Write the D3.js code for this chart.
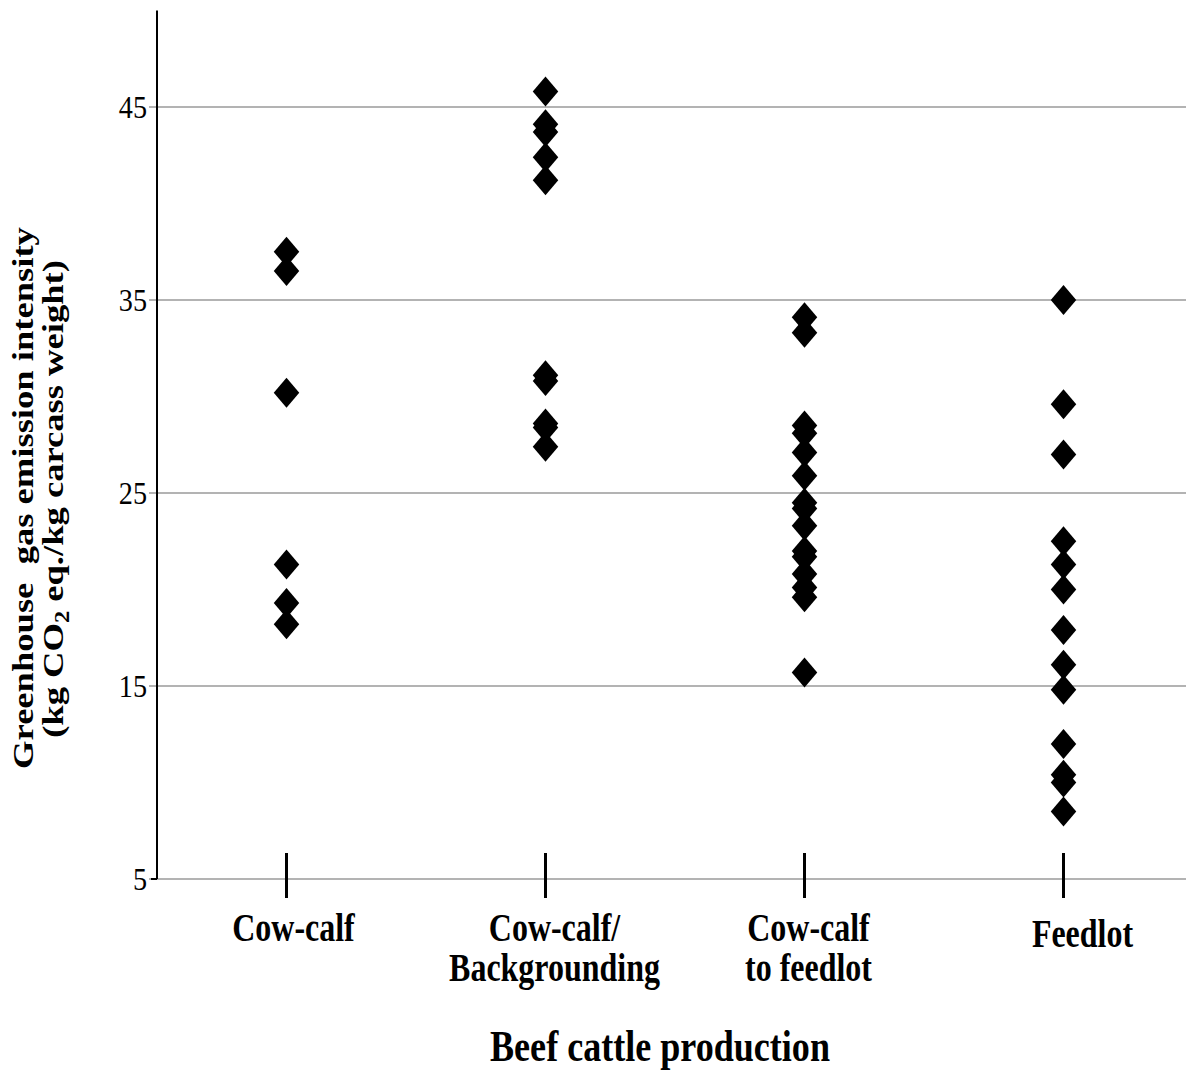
<!DOCTYPE html>
<html>
<head>
<meta charset="utf-8">
<script src="https://cdn.jsdelivr.net/npm/d3@7"></script>
<style>
  body { margin: 0; background: #fff; }
  svg { display: block; }
  text { font-family: "Liberation Serif", "Times New Roman", serif; fill: #000; }
</style>
</head>
<body>
<svg id="chart" width="1186" height="1072"></svg>
<script>
// Production systems shown along the x axis
const categories = ["Cow-calf", "Cow-calf/Backgrounding", "Cow-calf to feedlot", "Feedlot"];
const categoryLabelLines = [["Cow-calf"], ["Cow-calf/", "Backgrounding"], ["Cow-calf", "to feedlot"], ["Feedlot"]];

// GHG emission intensity estimates (kg CO2 eq./kg carcass weight) per system
const cowCalfValues = [37.5, 36.5, 30.2, 21.3, 19.3, 18.2];
const backgroundingValues = [45.8, 44.1, 43.7, 42.4, 41.2, 31.1, 30.8, 28.6, 28.4, 27.4];
const cowCalfToFeedlotValues = [34.1, 33.3, 28.5, 28.1, 27.1, 25.9, 24.5, 24.2, 23.3, 22.0, 21.7, 20.8, 20.1, 19.6, 15.7];
const feedlotValues = [35.0, 29.6, 27.0, 22.5, 21.3, 20.0, 17.9, 16.1, 14.8, 12.0, 10.4, 10.0, 8.5];

const seriesValues = [cowCalfValues, backgroundingValues, cowCalfToFeedlotValues, feedlotValues];

// Y axis
const yDomain = [5, 50];
const yTickValues = [5, 15, 25, 35, 45];

const svg = d3.select("#chart");

// Plot frame
const plotLeft = 157, plotRight = 1193, plotTop = 10.5, plotBottom = 879;

// Text in this figure is drawn narrow: horizontal glyphs squeezed, vertical ones stretched
const squeeze = 0.82;

const x = d3.scaleBand().domain(categories).range([plotLeft, plotRight]).padding(0);
const y = d3.scaleLinear().domain(yDomain).range([plotBottom, plotTop]);
const xCenter = c => x(c) + x.bandwidth() / 2;

// Horizontal gridlines
svg.append("g")
  .selectAll("line")
  .data(yTickValues)
  .join("line")
  .attr("x1", plotLeft - 8)
  .attr("x2", plotRight)
  .attr("y1", d => y(d))
  .attr("y2", d => y(d))
  .attr("stroke", "#9a9a9a")
  .attr("stroke-width", 1.6);

// Short black tick at the axis foot
svg.append("line")
  .attr("x1", plotLeft - 6).attr("x2", plotLeft)
  .attr("y1", y(yDomain[0])).attr("y2", y(yDomain[0]))
  .attr("stroke", "#000").attr("stroke-width", 2);

// Y axis line
svg.append("line")
  .attr("x1", plotLeft).attr("x2", plotLeft)
  .attr("y1", y(yDomain[1])).attr("y2", y(yDomain[0]))
  .attr("stroke", "#000").attr("stroke-width", 2);

// Y tick labels
svg.append("g")
  .selectAll("text")
  .data(yTickValues)
  .join("text")
  .attr("transform", d => `translate(${plotLeft - 10},${y(d) + 11}) scale(0.88,1)`)
  .attr("text-anchor", "end")
  .attr("font-size", 32)
  .text(d => d);

// Category markers crossing the baseline
svg.append("g")
  .selectAll("line")
  .data(categories)
  .join("line")
  .attr("x1", d => xCenter(d))
  .attr("x2", d => xCenter(d))
  .attr("y1", plotBottom - 26)
  .attr("y2", plotBottom + 19)
  .attr("stroke", "#000")
  .attr("stroke-width", 3);

// Diamond markers, a little taller than wide
const tallDiamond = {
  draw(context, size) {
    const h = Math.sqrt(size) / 2;
    const w = h * 0.85;
    context.moveTo(0, -h);
    context.lineTo(w, 0);
    context.lineTo(0, h);
    context.lineTo(-w, 0);
    context.closePath();
  }
};
const diamond = d3.symbol().type(tallDiamond).size(900);

const points = categories.flatMap((c, i) => seriesValues[i].map(v => ({ category: c, value: v })));

svg.append("g")
  .selectAll("path")
  .data(points)
  .join("path")
  .attr("d", diamond)
  .attr("transform", d => `translate(${xCenter(d.category)},${y(d.value)})`)
  .attr("fill", "#000");

// Category labels (small nudges keep each block where it sits in the layout)
const labelNudge = [7, 9, 4, 19];
const labelBaseline = [941, 941, 941, 947];
const labels = svg.append("g");
categories.forEach((c, i) => {
  categoryLabelLines[i].forEach((line, j) => {
    labels.append("text")
      .attr("transform", `translate(${xCenter(c) + labelNudge[i]},${labelBaseline[i] + j * 40}) scale(${squeeze},1)`)
      .attr("text-anchor", "middle")
      .attr("font-size", 39)
      .attr("font-weight", "bold")
      .text(line);
  });
});

// X axis title
svg.append("text")
  .attr("transform", `translate(660,1061) scale(${squeeze},1)`)
  .attr("text-anchor", "middle")
  .attr("font-size", 44)
  .attr("font-weight", "bold")
  .text("Beef cattle production");

// Y axis title, two lines
const stretch = 1 / squeeze;
svg.append("text")
  .attr("transform", `translate(33,498) rotate(-90) scale(${stretch},1)`)
  .attr("text-anchor", "middle")
  .attr("font-size", 30)
  .attr("font-weight", "bold")
  .style("white-space", "pre")
  .text("Greenhouse  gas emission intensity");

const yTitle2 = svg.append("text")
  .attr("transform", `translate(63,499) rotate(-90) scale(${stretch},1)`)
  .attr("text-anchor", "middle")
  .attr("font-size", 30)
  .attr("font-weight", "bold");
yTitle2.append("tspan").text("(kg CO");
yTitle2.append("tspan").attr("font-size", 20).attr("dy", 6).text("2");
yTitle2.append("tspan").attr("dy", -6).text(" eq./kg carcass weight)");
</script>
</body>
</html>
